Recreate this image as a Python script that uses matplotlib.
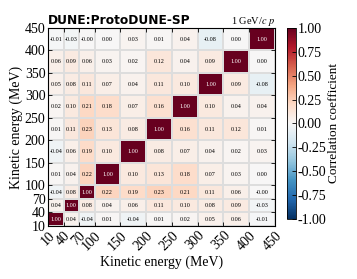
import numpy as np
import matplotlib
matplotlib.use("Agg")
import matplotlib.pyplot as plt

# bin edges of the kinetic energy (MeV)
edges = [10, 40, 70, 100, 150, 200, 250, 300, 350, 400, 450]

# correlation matrix, rows from the lowest bin (10-40) to the highest (400-450)
corr = np.array([
    [1.00, 0.04, -0.04, 0.01, -0.04, 0.01, 0.02, 0.05, 0.06, -0.01],
    [0.04, 1.00, 0.08, 0.04, 0.06, 0.11, 0.10, 0.08, 0.09, -0.03],
    [-0.04, 0.08, 1.00, 0.22, 0.19, 0.23, 0.21, 0.11, 0.06, -0.00],
    [0.01, 0.04, 0.22, 1.00, 0.10, 0.13, 0.18, 0.07, 0.03, 0.00],
    [-0.04, 0.06, 0.19, 0.10, 1.00, 0.08, 0.07, 0.04, 0.02, 0.03],
    [0.01, 0.11, 0.23, 0.13, 0.08, 1.00, 0.16, 0.11, 0.12, 0.01],
    [0.02, 0.10, 0.21, 0.18, 0.07, 0.16, 1.00, 0.10, 0.04, 0.04],
    [0.05, 0.08, 0.11, 0.07, 0.04, 0.11, 0.10, 1.00, 0.09, -0.08],
    [0.06, 0.09, 0.06, 0.03, 0.02, 0.12, 0.04, 0.09, 1.00, 0.00],
    [-0.01, -0.03, -0.00, 0.00, 0.03, 0.01, 0.04, -0.08, 0.00, 1.00],
])

plt.rcParams['font.family'] = ['Liberation Serif', 'DejaVu Serif']
plt.rcParams['mathtext.fontset'] = 'stix'

fig = plt.figure(figsize=(3.57, 2.79), dpi=100)
ax = fig.add_axes([0.135, 0.19, 0.635, 0.71])
cax = fig.add_axes([0.805, 0.215, 0.025, 0.685])

mesh = ax.pcolormesh(edges, edges, corr, cmap='RdBu_r', vmin=-1, vmax=1,
                     edgecolors='#dddddd', linewidth=0.3)

# write the value in every cell
centres = [(edges[i] + edges[i + 1]) / 2 for i in range(len(edges) - 1)]
for i, yc in enumerate(centres):
    for j, xc in enumerate(centres):
        v = corr[i, j]
        col = 'white' if v > 0.7 else 'black'
        ax.text(xc, yc, "%.2f" % v, ha='center', va='center',
                fontsize=4.4, color=col)

ax.set_xticks(edges)
ax.set_yticks(edges)
ax.set_xticklabels([str(e) for e in edges], rotation=45, ha='right',
                   va='top', rotation_mode='anchor', fontsize=10)
ax.set_yticklabels([str(e) for e in edges], fontsize=10)
ax.tick_params(direction='in', top=True, right=True, length=3, width=0.6,
               pad=2)
ax.set_xlabel("Kinetic energy (MeV)", fontsize=10, labelpad=2)
ax.set_ylabel("Kinetic energy (MeV)", fontsize=10, labelpad=1)
ax.set_title("DUNE:ProtoDUNE-SP", loc='left', fontsize=8.8,
             fontweight='bold', family='DejaVu Sans', pad=4)
ax.set_title(r"1 GeV/$c$ $p$", loc='right', fontsize=7.5, pad=3)

cb = fig.colorbar(mesh, cax=cax)
cb.set_ticks([-1, -0.75, -0.5, -0.25, 0, 0.25, 0.5, 0.75, 1])
cb.ax.tick_params(direction='in', labelsize=10, length=3, width=0.6, pad=1)
cb.set_label("Correlation coefficient", fontsize=9.5, labelpad=1)
cb.ax.yaxis.set_major_formatter(matplotlib.ticker.FormatStrFormatter('%.2f'))
cb.outline.set_linewidth(0.6)

fig.savefig("out.png", dpi=100)
